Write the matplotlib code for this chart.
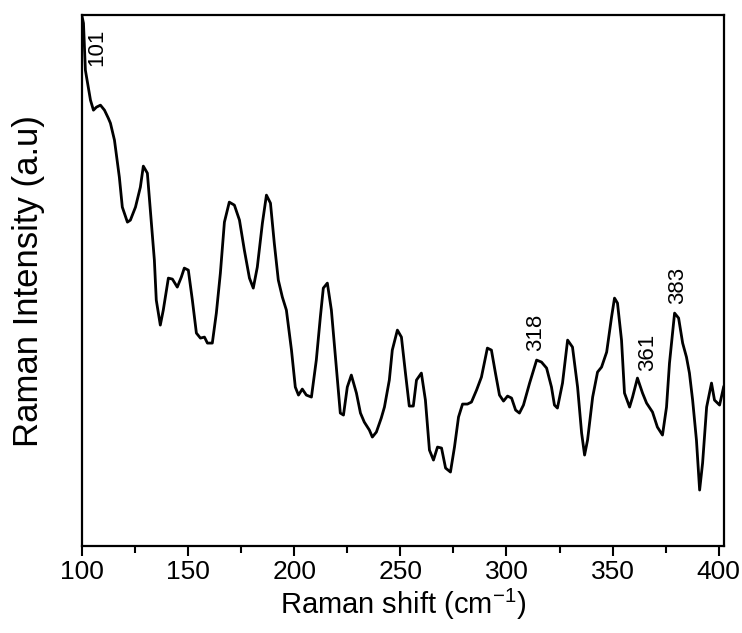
import matplotlib
matplotlib.use("Agg")
import matplotlib.pyplot as plt
from matplotlib.ticker import MultipleLocator

plt.rcParams["font.family"] = ["Liberation Sans", "DejaVu Sans"]
plt.rcParams["mathtext.default"] = "regular"

# Raman spectrum (intensity in arbitrary units)
shift = [100.0, 100.7, 101.6, 104.0, 105.4, 106.8, 108.7, 110.6, 112.4, 113.4,
         115.3, 117.6, 119.0, 121.4, 122.8, 125.2, 127.5, 128.9, 130.8, 132.2,
         134.1, 135.0, 136.9, 138.3, 140.7, 142.6, 144.9, 146.8, 148.2, 150.1,
         152.0, 153.9, 155.8, 157.7, 159.1, 161.4, 163.3, 165.2, 167.1, 169.4,
         171.8, 174.2, 176.5, 178.9, 180.7, 182.6, 185.0, 186.9, 188.8, 190.6,
         192.5, 194.4, 196.3, 198.7, 200.5, 202.0, 203.8, 205.7, 208.1, 210.4,
         212.3, 213.7, 215.6, 217.5, 219.8, 221.7, 223.2, 225.0, 226.9, 229.3,
         231.2, 233.0, 235.4, 236.8, 238.7, 241.0, 242.5, 244.8, 246.2, 248.6,
         250.5, 252.4, 254.2, 256.1, 257.6, 259.9, 261.8, 263.7, 265.6, 267.5,
         269.4, 271.3, 273.6, 275.5, 277.4, 279.3, 281.6, 283.5, 285.9, 288.2,
         291.0, 292.9, 294.8, 296.7, 298.6, 300.5, 302.4, 304.3, 306.1, 308.0,
         310.9, 314.2, 316.5, 318.9, 321.2, 322.6, 324.0, 326.4, 328.8, 331.1,
         333.5, 335.4, 336.8, 338.2, 340.6, 342.9, 344.8, 347.2, 349.5, 350.9,
         352.3, 354.2, 355.6, 358.0, 359.4, 361.7, 364.1, 366.0, 368.8, 371.1,
         373.5, 375.4, 376.8, 379.2, 381.1, 383.0, 384.8, 386.2, 387.7, 389.5,
         391.0, 392.4, 394.3, 396.6, 398.0, 400.4, 402.3]
intensity = [530, 523, 476, 446, 436, 439, 441, 436, 428, 423,
             406, 369, 339, 324, 326, 339, 359, 380, 373, 336,
             286, 246, 221, 236, 268, 267, 259, 269, 278, 276,
             246, 213, 208, 209, 203, 203, 233, 273, 324, 344,
             341, 326, 296, 268, 258, 279, 323, 351, 343, 303,
             266, 249, 236, 196, 159, 151, 157, 151, 149, 186,
             229, 258, 263, 236, 179, 133, 131, 159, 171, 153,
             133, 124, 116, 109, 114, 128, 139, 166, 196, 216,
             209, 173, 140, 140, 166, 173, 146, 96, 86, 99,
             98, 78, 74, 99, 129, 142, 142, 144, 156, 169,
             198, 196, 173, 151, 145, 150, 148, 136, 133, 141,
             163, 186, 184, 178, 159, 141, 138, 163, 206, 199,
             159, 113, 91, 106, 149, 174, 179, 194, 229, 248,
             243, 206, 153, 139, 149, 168, 153, 143, 134, 119,
             111, 139, 183, 233, 228, 203, 189, 173, 146, 106,
             56, 83, 139, 163, 146, 141, 159]

# peak labels
peak_labels = ["101", "318", "361", "383"]
peak_x = [107.0, 313.6, 366.4, 380.7]
peak_y = [499, 214, 194, 261]

fig = plt.figure(figsize=(7.42, 6.33), dpi=100)
ax = fig.add_axes([0.1105, 0.1374, 0.865, 0.8386])

ax.plot(shift, intensity, color="black", linewidth=2.0)

for lab, x, y in zip(peak_labels, peak_x, peak_y):
    ax.text(x, y, lab, rotation=90, ha="center", va="center", fontsize=16)

ax.set_xlim(100, 402.4)
ax.set_ylim(0, 531)
ax.xaxis.set_major_locator(MultipleLocator(50))
ax.xaxis.set_minor_locator(MultipleLocator(25))
ax.tick_params(axis="x", which="major", direction="out", length=7, width=1.5,
               labelsize=19, pad=3)
ax.tick_params(axis="x", which="minor", direction="out", length=5, width=1.5)
ax.set_yticks([])
for sp in ax.spines.values():
    sp.set_linewidth(1.6)

ax.set_xlabel("Raman shift (cm$^{-1}$)", fontsize=21, labelpad=2)
ax.set_ylabel("Raman Intensity (a.u)", fontsize=25)
ax.yaxis.set_label_coords(-0.058, 0.5)

fig.savefig("out.png", dpi=100)
